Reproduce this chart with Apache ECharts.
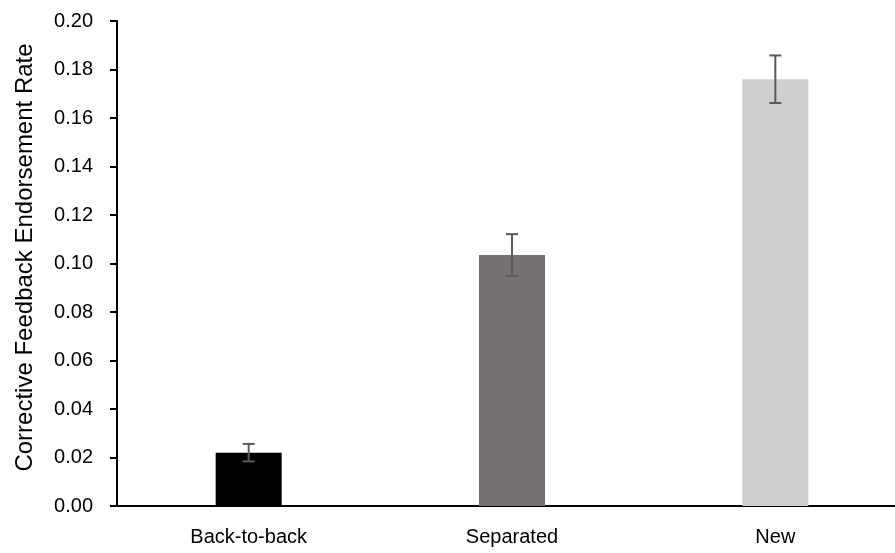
<!DOCTYPE html>
<html><head><meta charset="utf-8">
<script src="https://cdn.jsdelivr.net/npm/echarts@6/dist/echarts.min.js"></script>
<style>html,body{margin:0;padding:0;background:#fff}#c{width:895px;height:553px}</style>
</head><body><div id="c"></div>
<script>
const categories = ['Back-to-back', 'Separated', 'New'];
const means = [0.022, 0.1035, 0.176];
const errors = [0.0036, 0.0086, 0.0098];
const barColors = ['#000000', '#767171', '#D0CECE'];
const yTicks = { min: 0, max: 0.20, interval: 0.02 };

const chart = echarts.init(document.getElementById('c'));
const font = 'Liberation Sans';
chart.setOption({
  animation: false,
  grid: { left: 117, width: 790, top: 21, bottom: 47, outerBoundsMode: 'none', containLabel: false },
  xAxis: {
    type: 'category', data: categories,
    axisLine: { lineStyle: { color: '#000', width: 2 } },
    axisTick: { show: false },
    axisLabel: { color: '#000', fontSize: 20, fontFamily: font, margin: 21 }
  },
  yAxis: {
    type: 'value', min: yTicks.min, max: yTicks.max, interval: yTicks.interval,
    name: 'Corrective Feedback Endorsement Rate', nameLocation: 'middle', nameGap: 80,
    nameTextStyle: { color: '#000', fontSize: 24, fontFamily: font, padding: [0, 0, 0, 12] },
    axisLine: { show: true, lineStyle: { color: '#000', width: 2 } },
    axisTick: { show: true, length: 7, lineStyle: { color: '#000', width: 2 } },
    splitLine: { show: false },
    axisLabel: { color: '#000', fontSize: 20, fontFamily: font, margin: 24,
      formatter: v => v.toFixed(2) }
  },
  series: [
    {
      type: 'bar', barWidth: 66,
      data: means.map((v, i) => ({ value: v, itemStyle: { color: barColors[i] } }))
    },
    {
      type: 'custom', z: 10,
      data: means.map((m, i) => [i, m - errors[i], m + errors[i]]),
      renderItem: (params, api) => {
        const x = api.value(0);
        const lo = api.coord([x, api.value(1)]);
        const hi = api.coord([x, api.value(2)]);
        const hw = 6;
        const style = { stroke: '#595959', lineWidth: 2 };
        return { type: 'group', children: [
          { type: 'line', shape: { x1: lo[0], y1: lo[1], x2: hi[0], y2: hi[1] }, style },
          { type: 'line', shape: { x1: lo[0]-hw, y1: lo[1], x2: lo[0]+hw, y2: lo[1] }, style },
          { type: 'line', shape: { x1: hi[0]-hw, y1: hi[1], x2: hi[0]+hw, y2: hi[1] }, style }
        ]};
      }
    }
  ]
});
</script></body></html>
